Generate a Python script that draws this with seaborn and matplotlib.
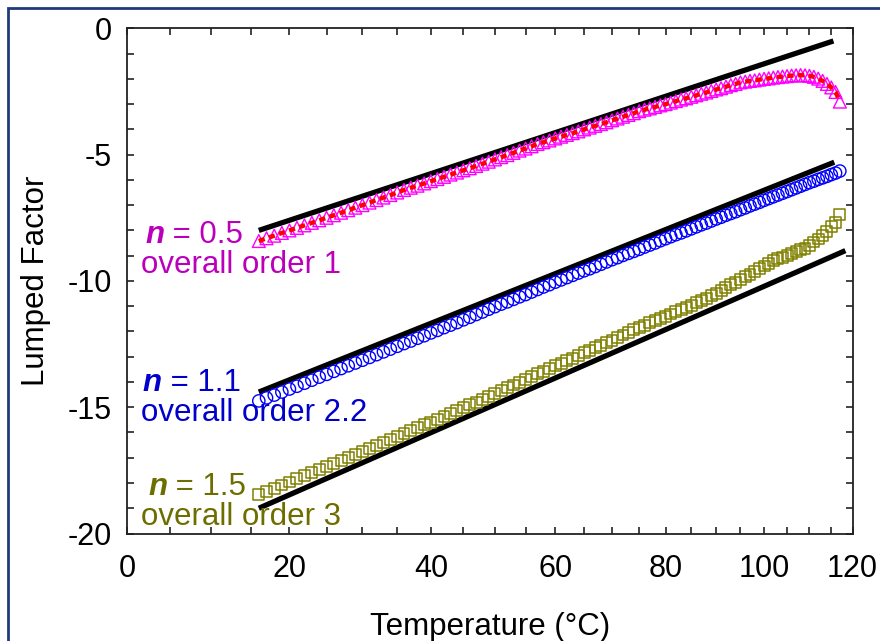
import matplotlib
matplotlib.use("Agg")
import matplotlib.pyplot as plt
from matplotlib.ticker import FixedLocator, FuncFormatter
from matplotlib.patches import Rectangle
import seaborn as sns
import numpy as np

sns.set_style("ticks")
plt.rcParams['font.family'] = ['Liberation Sans', 'DejaVu Sans']
plt.rcParams['axes.unicode_minus'] = False
plt.rcParams['text.color'] = 'black'
plt.rcParams['axes.labelcolor'] = 'black'
plt.rcParams['xtick.color'] = 'black'
plt.rcParams['ytick.color'] = 'black'

# ---------------- data ----------------
temps = [16, 17, 18, 19, 20, 21, 22, 23, 24, 25,
         26, 27, 28, 29, 30, 31, 32, 33, 34, 35,
         36, 37, 38, 39, 40, 41, 42, 43, 44, 45,
         46, 47, 48, 49, 50, 51, 52, 53, 54, 55,
         56, 57, 58, 59, 60, 61, 62, 63, 64, 65,
         66, 67, 68, 69, 70, 71, 72, 73, 74, 75,
         76, 77, 78, 79, 80, 81, 82, 83, 84, 85,
         86, 87, 88, 89, 90, 91, 92, 93, 94, 95,
         96, 97, 98, 99, 100, 101, 102, 103, 104, 105,
         106, 107, 108, 109, 110, 111, 112, 113, 114, 115,
         116, 117]

lf_n05 = [-8.42, -8.31, -8.21, -8.10, -8.00, -7.90, -7.80, -7.70, -7.60, -7.50,
          -7.40, -7.30, -7.20, -7.10, -7.00, -6.90, -6.80, -6.70, -6.60, -6.50,
          -6.40, -6.31, -6.23, -6.14, -6.05, -5.97, -5.88, -5.79, -5.71, -5.62,
          -5.54, -5.45, -5.36, -5.28, -5.19, -5.10, -5.02, -4.93, -4.84, -4.76,
          -4.67, -4.58, -4.51, -4.44, -4.36, -4.29, -4.22, -4.15, -4.08, -4.00,
          -3.93, -3.86, -3.79, -3.72, -3.64, -3.57, -3.50, -3.43, -3.36, -3.28,
          -3.22, -3.17, -3.11, -3.05, -3.00, -2.94, -2.88, -2.82, -2.77, -2.71,
          -2.65, -2.59, -2.54, -2.48, -2.42, -2.37, -2.31, -2.25, -2.20, -2.14,
          -2.11, -2.08, -2.06, -2.03, -2.00, -1.98, -1.95, -1.93, -1.91, -1.89,
          -1.87, -1.86, -1.85, -1.86, -1.88, -1.92, -1.99, -2.08, -2.20, -2.34,
          -2.52, -2.90]

lf_n11 = [-14.75, -14.63, -14.52, -14.40, -14.28, -14.17, -14.05, -13.93, -13.81, -13.70,
          -13.58, -13.47, -13.36, -13.25, -13.14, -13.03, -12.92, -12.81, -12.70, -12.59,
          -12.48, -12.38, -12.27, -12.17, -12.06, -11.96, -11.85, -11.75, -11.65, -11.54,
          -11.44, -11.33, -11.23, -11.12, -11.02, -10.92, -10.83, -10.73, -10.63, -10.54,
          -10.44, -10.34, -10.24, -10.15, -10.05, -9.96, -9.87, -9.78, -9.69, -9.60,
          -9.52, -9.43, -9.34, -9.25, -9.16, -9.08, -8.99, -8.91, -8.83, -8.75,
          -8.66, -8.58, -8.50, -8.41, -8.33, -8.25, -8.17, -8.10, -8.02, -7.94,
          -7.86, -7.78, -7.71, -7.63, -7.55, -7.48, -7.40, -7.33, -7.26, -7.18,
          -7.11, -7.03, -6.96, -6.89, -6.81, -6.74, -6.67, -6.60, -6.53, -6.46,
          -6.39, -6.32, -6.25, -6.18, -6.11, -6.05, -5.98, -5.92, -5.86, -5.79,
          -5.73, -5.65]

lf_n15 = [-18.44, -18.32, -18.20, -18.08, -17.96, -17.84, -17.72, -17.60, -17.48, -17.36,
          -17.24, -17.12, -17.00, -16.88, -16.76, -16.64, -16.52, -16.40, -16.28, -16.16,
          -16.04, -15.93, -15.82, -15.70, -15.59, -15.48, -15.36, -15.25, -15.14, -15.02,
          -14.91, -14.80, -14.69, -14.57, -14.46, -14.35, -14.23, -14.12, -14.01, -13.89,
          -13.78, -13.67, -13.57, -13.47, -13.36, -13.26, -13.16, -13.06, -12.96, -12.85,
          -12.75, -12.65, -12.55, -12.45, -12.35, -12.25, -12.14, -12.04, -11.94, -11.84,
          -11.75, -11.66, -11.58, -11.49, -11.40, -11.31, -11.22, -11.14, -11.05, -10.96,
          -10.87, -10.79, -10.70, -10.59, -10.48, -10.38, -10.27, -10.16, -10.06, -9.95,
          -9.84, -9.73, -9.63, -9.52, -9.41, -9.31, -9.20, -9.13, -9.06, -8.99,
          -8.91, -8.84, -8.77, -8.70, -8.58, -8.46, -8.34, -8.22, -8.04, -7.86,
          -7.67, -7.38]

fit_T1 = [16, 115.5]
fit_y1 = [-8.0, -0.5]
fit_T2 = [16, 115.7]
fit_y2 = [-14.4, -5.3]
fit_T3 = [16, 118.3]
fit_y3 = [-19.0, -8.8]

x_major = [0, 20, 40, 60, 80, 100, 120]
x_minor = [0, 5, 10, 15, 20, 25, 30, 35, 40, 45, 50, 55, 60, 65, 70, 75,
           80, 85, 90, 95, 100, 105, 110, 115, 120]
y_major = [-20, -15, -10, -5, 0]
y_minor = [-20, -19, -18, -17, -16, -15, -14, -13, -12, -11, -10, -9, -8, -7,
           -6, -5, -4, -3, -2, -1, 0]

labels = [("0.5", "overall order 1", "#BB00BB"),
          ("1.1", "overall order 2.2", "#0000CC"),
          ("1.5", "overall order 3", "#6E6E00")]

# ---------------- figure ----------------
fig = plt.figure(figsize=(8.8, 6.41), dpi=100)
ax = fig.add_axes([0.1447, 0.1677, 0.8241, 0.7881])

def fwd(t):
    t = np.asarray(t, dtype=float)
    return -1000.0 / (t + 273.15)

def inv(v):
    v = np.asarray(v, dtype=float)
    with np.errstate(divide='ignore'):
        return -1000.0 / v - 273.15

ax.set_xscale('function', functions=(fwd, inv))

# fitted Arrhenius lines
for ft, fy in [(fit_T1, fit_y1), (fit_T2, fit_y2), (fit_T3, fit_y3)]:
    sns.lineplot(x=ft, y=fy, color='black', linewidth=3.8, ax=ax, zorder=2,
                 solid_capstyle='butt')

# data markers
sns.scatterplot(x=temps, y=lf_n05, marker='^', s=85, facecolors='none',
                edgecolors='#FF00FF', linewidths=1.0, ax=ax, zorder=3)
sns.lineplot(x=temps, y=lf_n05, color='#FF0000', linewidth=3.2,
             linestyle=(0, (1.4, 1.0)), ax=ax, zorder=4)
sns.scatterplot(x=temps, y=lf_n11, marker='o', s=78, facecolors='none',
                edgecolors='#0000FF', linewidths=1.0, ax=ax, zorder=3)
sns.scatterplot(x=temps, y=lf_n15, marker='s', s=62, facecolors='none',
                edgecolors='#808000', linewidths=1.1, ax=ax, zorder=3)

# annotations
fs = 22.5
pos = [((0.0244, 0.591), (0.0189, 0.531)),
       ((0.0212, 0.298), (0.0189, 0.2385)),
       ((0.0286, 0.092), (0.0189, 0.0327))]
for (nval, order, col), (p1, p2) in zip(labels, pos):
    t = ax.text(p1[0], p1[1], "n", transform=ax.transAxes, fontsize=fs,
                fontweight='bold', fontstyle='italic', color=col,
                ha='left', va='center', zorder=5)
    ax.annotate(" = " + nval, xy=(1, 0), xycoords=t, fontsize=fs, color=col,
                ha='left', va='bottom', zorder=5)
    ax.text(p2[0], p2[1], order, transform=ax.transAxes, fontsize=fs,
            color=col, ha='left', va='center', zorder=5)

# axes styling
ax.set_xlim(0, 120)
ax.set_ylim(-20, 0)
ax.xaxis.set_major_locator(FixedLocator(x_major))
ax.xaxis.set_minor_locator(FixedLocator(x_minor))
ax.xaxis.set_major_formatter(FuncFormatter(lambda v, p: f"{v:.0f}"))
ax.xaxis.set_minor_formatter(FuncFormatter(lambda v, p: ""))
ax.yaxis.set_major_locator(FixedLocator(y_major))
ax.yaxis.set_minor_locator(FixedLocator(y_minor))
ax.yaxis.set_major_formatter(FuncFormatter(lambda v, p: f"{v:.0f}"))

ax.tick_params(which='both', direction='in', top=True, right=True,
               length=5, width=1.2, color='#222222')
ax.tick_params(axis='x', which='major', labelsize=22, pad=15)
ax.tick_params(axis='y', which='major', labelsize=22, pad=11)
for sp in ax.spines.values():
    sp.set_color('#222222')
    sp.set_linewidth(1.3)

ax.set_xlabel("Temperature (°C)", fontsize=22.5, labelpad=20)
ax.set_ylabel("Lumped Factor", fontsize=22.5, labelpad=12)

# outer frame
fig.patches.append(Rectangle((8 / 880, -0.05), 1.2, 1 - 8 / 641 + 0.05,
                             transform=fig.transFigure, fill=False,
                             edgecolor='#1F3C7A', linewidth=2.0, zorder=0))

fig.savefig("out.png", dpi=100)
